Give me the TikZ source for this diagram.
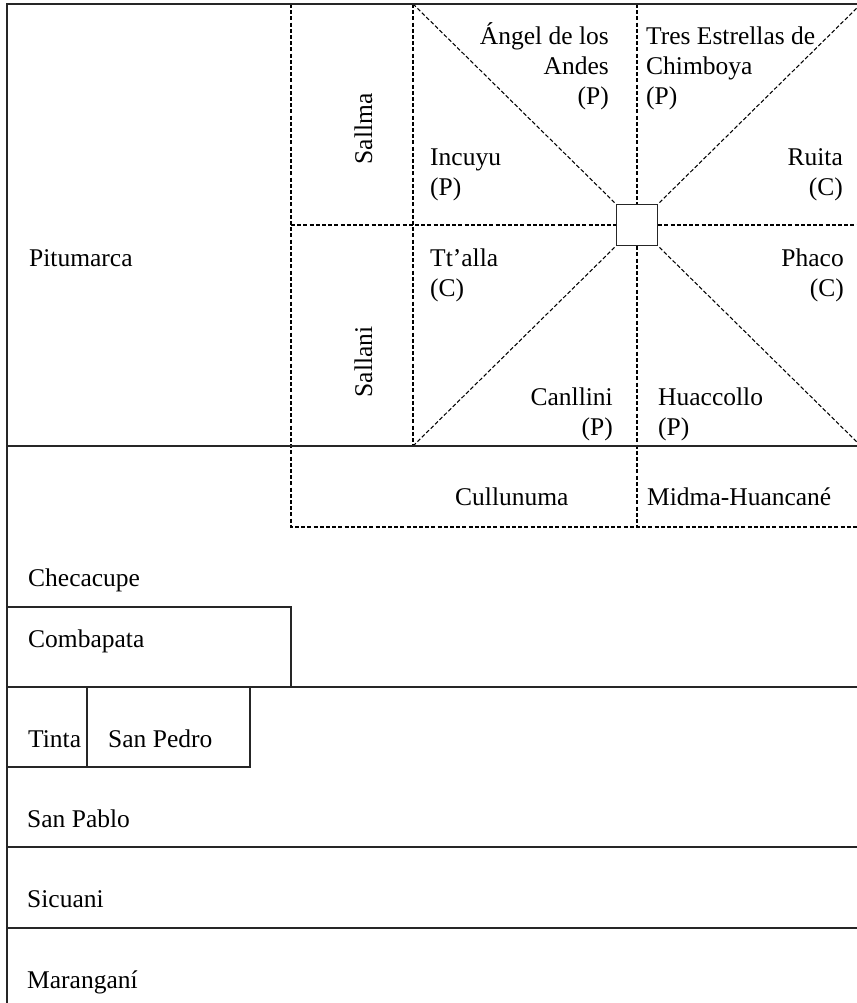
\documentclass[tikz,border=0pt]{standalone}
\usepackage{fontspec}
\setmainfont{Liberation Serif}
\begin{document}
\begin{tikzpicture}[x=1pt,y=-1pt,
  solid line/.style={line width=1.4pt, black!85},
  dash line/.style={line width=1.05pt, dash pattern=on 4pt off 2.2pt, black},
  lbl/.style={anchor=base west, inner sep=0pt, font=\fontsize{25.5}{30}\selectfont},
  lblr/.style={anchor=base east, inner sep=0pt, font=\fontsize{25.5}{30}\selectfont},
  vlbl/.style={anchor=base, rotate=90, inner sep=0pt, font=\fontsize{25.5}{30}\selectfont},
  hubbox/.style={draw, line width=1.4pt, black!85, minimum size=41pt, inner sep=0pt}]
\useasboundingbox (0,0) rectangle (856,1003);
\fill[white] (0,0) rectangle (856,1003);

% frame corners and fixed points
\coordinate (tl) at (7,4);
\coordinate (tr) at (861,4);
\coordinate (bl) at (7,1003);
\coordinate (ia) at (413,4);
\coordinate (ib) at (413,446);
\coordinate (ic) at (861,446);
\coordinate (sa) at (291,4);
\coordinate (sb) at (291,527);
\coordinate (sc) at (861,527);
\coordinate (sm) at (291,225);
\coordinate (sr) at (861,225);
\coordinate (vt) at (637,4);
\coordinate (vb) at (637,527);

% central square
\node[hubbox] (hub) at (637,225) {};

% dashed subdivisions
\draw[dash line] (sa) -- (sb) -- (sc);
\draw[dash line] (ia) -- (ib);
\draw[dash line] (sm) -- (hub.west);
\draw[dash line] (hub.east) -- (sr);
\draw[dash line] (vt) -- (hub.north);
\draw[dash line] (hub.south) -- (vb);
\draw[dash line] (ia) -- (hub.north west);
\draw[dash line] (tr) -- (hub.north east);
\draw[dash line] (ib) -- (hub.south west);
\draw[dash line] (ic) -- (hub.south east);

% solid frame and rows
\coordinate (r1l) at (7,446);   \coordinate (r1r) at (861,446);
\coordinate (r2l) at (7,607);   \coordinate (r2r) at (291,607);
\coordinate (r2b) at (291,687);
\coordinate (r3l) at (7,687);   \coordinate (r3r) at (861,687);
\coordinate (r4l) at (7,767);   \coordinate (r4r) at (250,767);
\coordinate (r4t) at (250,687);
\coordinate (tdt) at (87,687);  \coordinate (tdb) at (87,767);
\coordinate (r5l) at (7,847);   \coordinate (r5r) at (861,847);
\coordinate (r6l) at (7,928);   \coordinate (r6r) at (861,928);

\draw[solid line] (bl) -- (tl) -- (tr);
\draw[solid line] (r1l) -- (r1r);
\draw[solid line] (r2l) -- (r2r) -- (r2b);
\draw[solid line] (r3l) -- (r3r);
\draw[solid line] (r4l) -- (r4r) -- (r4t);
\draw[solid line] (tdt) -- (tdb);
\draw[solid line] (r5l) -- (r5r);
\draw[solid line] (r6l) -- (r6r);

% district names
\node[lbl] (pitumarca) at (29,266) {Pitumarca};
\node[lbl] (checacupe) at (28,586) {Checacupe};
\node[lbl] (combapata) at (28,647) {Combapata};
\node[lbl] (tinta) at (28,747) {Tinta};
\node[lbl] (sanpedro) at (108,747) {San Pedro};
\node[lbl] (sanpablo) at (27,827) {San Pablo};
\node[lbl] (sicuani) at (27,907) {Sicuani};
\node[lbl] (marangani) at (27,988) {Maranganí};

% sectors
\node[vlbl] (sallma) at (372,129) {Sallma};
\node[vlbl] (sallani) at (372,362) {Sallani};
\node[lbl] (cullunuma) at (455,505) {Cullunuma};
\node[lbl] (midma) at (647,505) {Midma-Huancané};

% communities
\node[lblr] (angel1) at (609,45) {Ángel de los};
\node[lblr] (angel2) at (609,75) {Andes};
\node[lblr] (angel3) at (609,105) {(P)};
\node[lbl] (tres1) at (646,45) {Tres Estrellas de};
\node[lbl] (tres2) at (646,75) {Chimboya};
\node[lbl] (tres3) at (646,105) {(P)};
\node[lbl] (incuyu1) at (430,166) {Incuyu};
\node[lbl] (incuyu2) at (430,196) {(P)};
\node[lblr] (ruita1) at (843,166) {Ruita};
\node[lblr] (ruita2) at (843,196) {(C)};
\node[lbl] (ttalla1) at (430,266) {Tt’alla};
\node[lbl] (ttalla2) at (430,296) {(C)};
\node[lblr] (phaco1) at (844,266) {Phaco};
\node[lblr] (phaco2) at (844,296) {(C)};
\node[lblr] (canllini1) at (613,405) {Canllini};
\node[lblr] (canllini2) at (613,435) {(P)};
\node[lbl] (huaccollo1) at (658,405) {Huaccollo};
\node[lbl] (huaccollo2) at (658,435) {(P)};
\end{tikzpicture}
\end{document}
